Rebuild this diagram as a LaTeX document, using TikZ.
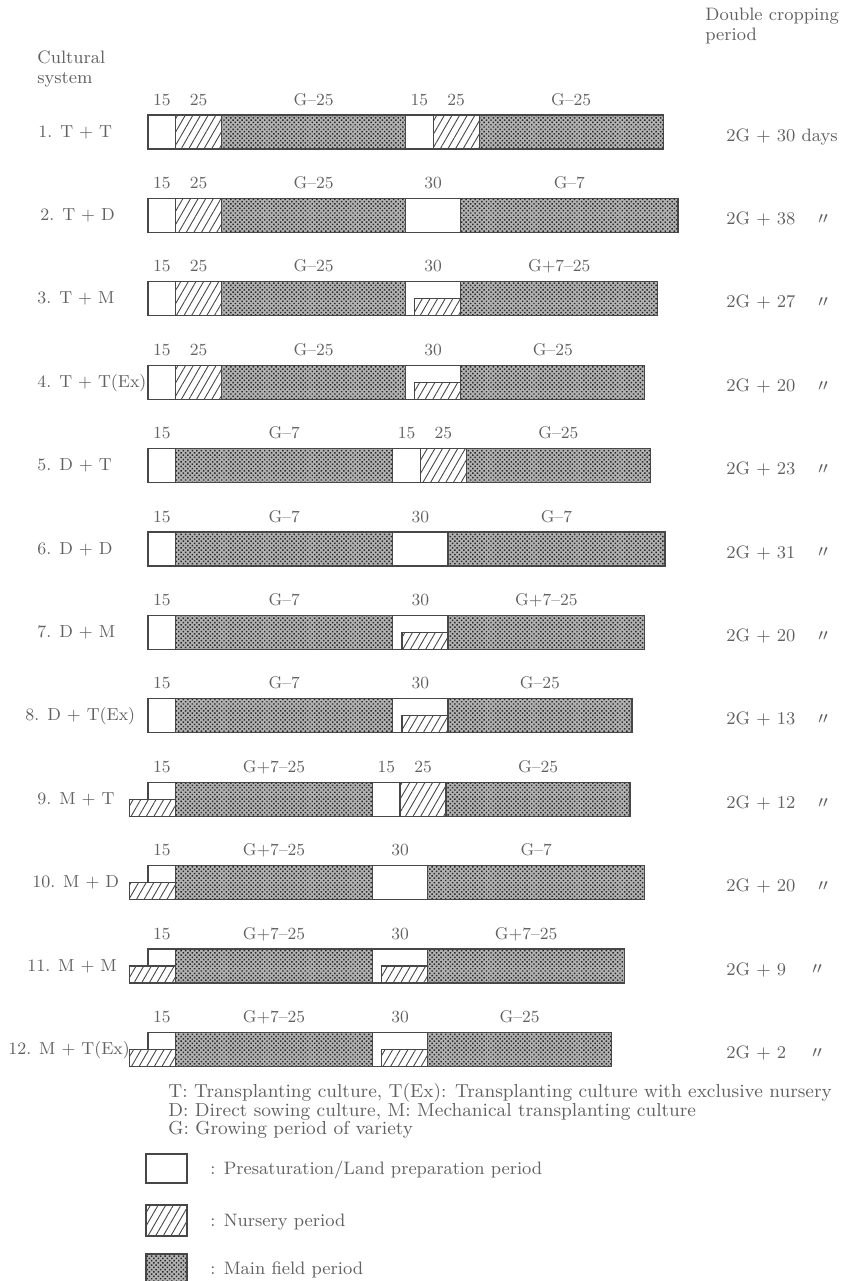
\documentclass[tikz,border=0pt]{standalone}
\usetikzlibrary{patterns.meta}

\definecolor{ink}{gray}{0.38}
\definecolor{barline}{gray}{0.28}

\tikzset{
  presat/.style={draw=barline, line width=0.6pt, fill=white},
  nursery/.style={draw=barline, line width=0.6pt, preaction={fill=white},
    pattern={Lines[angle=60, distance=3.3pt, line width=0.45pt]}, pattern color=barline},
  mainfield/.style={draw=barline, line width=0.6pt, preaction={fill=black!30},
    pattern={Dots[angle=45, distance=1.6pt, radius=0.52pt]}, pattern color=black!85},
  period/.style={font=\fontsize{8.5}{10}\selectfont, anchor=base},
  system/.style={anchor=base west, inner sep=0pt},
  result/.style={anchor=base west, inner sep=0pt},
}

% one segment of a bar: start, end (days), top, bottom (px)
\newcommand{\segW}[4]{\draw[presat] (#1,#3) rectangle (#2,#4);}
\newcommand{\segN}[4]{\draw[nursery] (#1,#3) rectangle (#2,#4);}
\newcommand{\segF}[4]{\draw[mainfield] (#1,#3) rectangle (#2,#4);}
\newcommand{\segX}[4]{\draw[presat] (#1,#3) rectangle (#2,#4);
  \draw[nursery] ({#1+5},{(#3+#4)/2}) rectangle (#2,#4);}
\newcommand{\segM}[4]{\draw[presat] (#1,#3) rectangle (#2,{(#3+#4)/2});
  \draw[nursery] ({#1-10},{(#3+#4)/2}) rectangle (#2,#4);}
\newcommand{\ditto}{\raisebox{0.15ex}{\fontsize{8}{8}\selectfont$\prime\prime$}}

\begin{document}
\begin{tikzpicture}[x=0.5pt, y=-0.5pt, text=ink, font=\fontsize{9}{10}\selectfont]
  \useasboundingbox (0,0) rectangle (852,1281);

  % Headings
  \node[anchor=north west, align=left, inner sep=0pt] (hdr-sys) at (37,50) {Cultural\\system};
  \node[anchor=north west, align=left, inner sep=0pt] (hdr-dcp) at (705,8) {Double cropping\\period};

  % Bars
  \foreach \r/\lx/\sys/\dcp/\segs in {
    1/38/{1. T + T}/{2G + 30 days}/{W/0/15/15, N/15/40/25, F/40/140/G--25, W/140/155/15, N/155/180/25, F/180/280/G--25},
    2/40/{2. T + D}/{2G + 38}/{W/0/15/15, N/15/40/25, F/40/140/G--25, W/140/170/30, F/170/288/G--7},
    3/37/{3. T + M}/{2G + 27}/{W/0/15/15, N/15/40/25, F/40/140/G--25, X/140/170/30, F/170/277/G+7--25},
    4/37/{4. T + T(Ex)}/{2G + 20}/{W/0/15/15, N/15/40/25, F/40/140/G--25, X/140/170/30, F/170/270/G--25},
    5/37/{5. D + T}/{2G + 23}/{W/0/15/15, F/15/133/G--7, W/133/148/15, N/148/173/25, F/173/273/G--25},
    6/37/{6. D + D}/{2G + 31}/{W/0/15/15, F/15/133/G--7, W/133/163/30, F/163/281/G--7},
    7/37/{7. D + M}/{2G + 20}/{W/0/15/15, F/15/133/G--7, X/133/163/30, F/163/270/G+7--25},
    8/25/{8. D + T(Ex)}/{2G + 13}/{W/0/15/15, F/15/133/G--7, X/133/163/30, F/163/263/G--25},
    9/37/{9. M + T}/{2G + 12}/{M/0/15/15, F/15/122/G+7--25, W/122/137/15, N/137/162/25, F/162/262/G--25},
    10/32/{10. M + D}/{2G + 20}/{M/0/15/15, F/15/122/G+7--25, W/122/152/30, F/152/270/G--7},
    11/27/{11. M + M}/{2G + 9}/{M/0/15/15, F/15/122/G+7--25, X/122/152/30, F/152/259/G+7--25},
    12/8/{12. M + T(Ex)}/{2G + 2}/{M/0/15/15, F/15/122/G+7--25, X/122/152/30, F/152/252/G--25}}
  {
    \pgfmathsetmacro\t{115+83.4*(\r-1)}
    \pgfmathsetmacro\b{\t+34}
    \node[system, font=\fontsize{8.7}{10}\selectfont] (sys-\r) at (\lx,\t+22) {\sys};
    \node[result] (dcp-\r) at (726,\t+26) {\dcp};
    \begin{scope}[shift={(148,0)}, x=0.92pt]
      \foreach \k/\a/\e/\lab in \segs {
        \csname seg\k\endcsname{\a}{\e}{\t}{\b}
        \node[period] (per-\r-\a) at ({(\a+\e)/2},\t-10) {\lab};
      }
    \end{scope}
  }

  % Ditto marks
  \foreach \r/\dx in {2/818,3/818,4/818,5/818,6/818,7/818,8/818,9/818,10/818,11/812,12/812}
  {
    \pgfmathsetmacro\t{115+83.4*(\r-1)}
    \node[result] (ditto-\r) at (\dx,\t+26) {\ditto};
  }

  % Notes
  \node[system, font=\fontsize{9.4}{10}\selectfont] (note-t) at (168,1097) {T: Transplanting culture, T(Ex): Transplanting culture with exclusive nursery};
  \node[system, font=\fontsize{9.4}{10}\selectfont] (note-d) at (168,1116) {D: Direct sowing culture, M: Mechanical transplanting culture};
  \node[system, font=\fontsize{9.4}{10}\selectfont] (note-g) at (168,1134) {G: Growing period of variety};

  % Key
  \draw[presat] (146,1154) rectangle (187,1183);
  \draw[nursery] (146,1205) rectangle (187,1236);
  \draw[mainfield] (146,1254) rectangle (187,1282);
  \node[system] (key-presat) at (210,1174) {: Presaturation/Land preparation period};
  \node[system] (key-nursery) at (210,1226) {: Nursery period};
  \node[system] (key-main) at (210,1274) {: Main field period};
\end{tikzpicture}
\end{document}
